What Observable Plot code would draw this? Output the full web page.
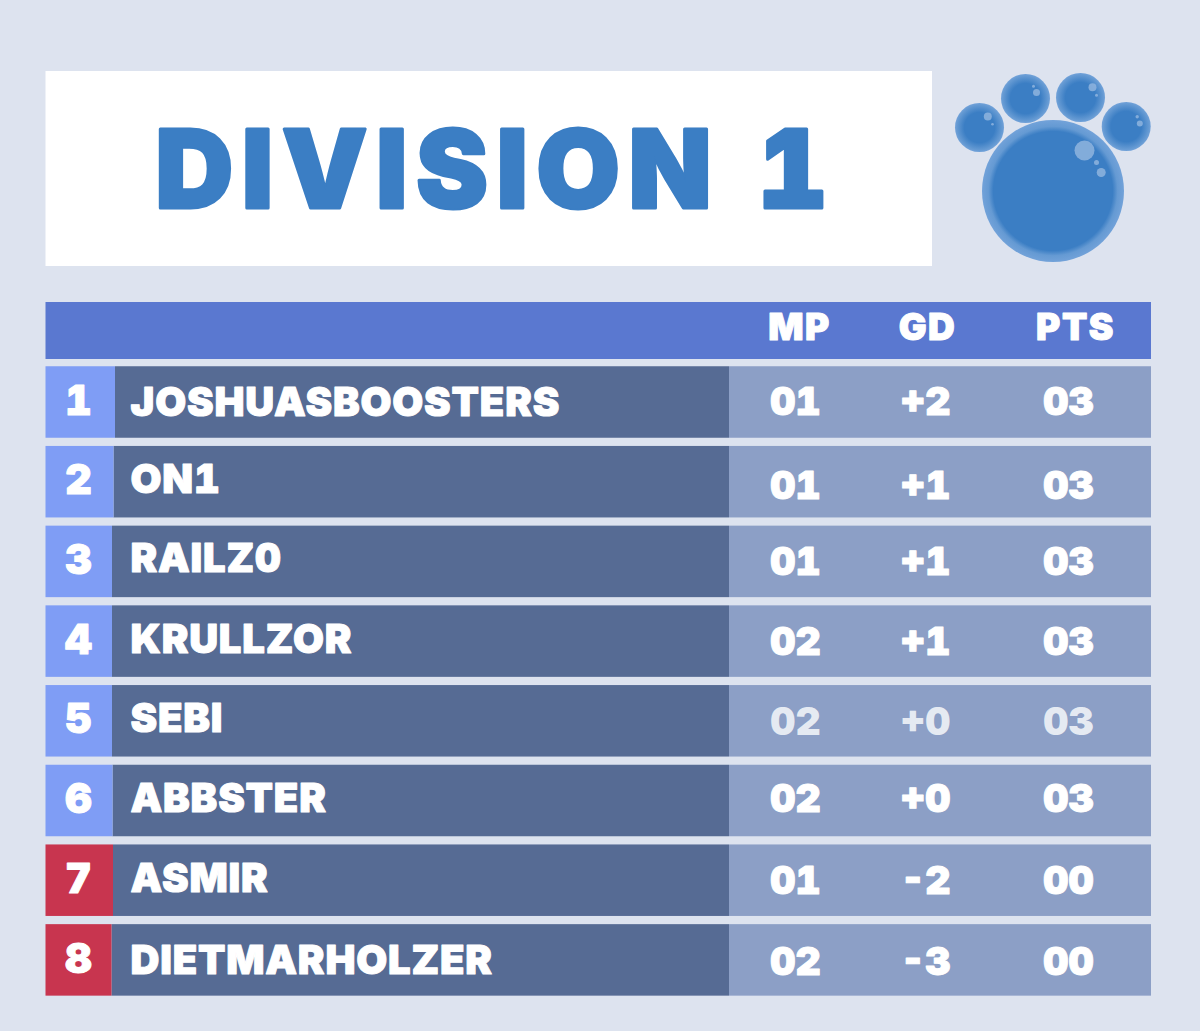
<!DOCTYPE html>
<html>
<head>
<meta charset="utf-8">
<script src="https://cdn.jsdelivr.net/npm/d3@7"></script>
<script src="https://cdn.jsdelivr.net/npm/@observablehq/plot@0.6"></script>
<style>
html,body{margin:0;padding:0;background:#dde3ef;}
svg{display:block;}
text{font-family:Inter,"Liberation Sans",sans-serif;font-weight:900;font-variant-numeric:tabular-nums;}
.ttl text{letter-spacing:8.5px;}
.nm text{letter-spacing:0.8px;}
.st text{letter-spacing:0;}
.hd text{letter-spacing:1.5px;}
</style>
</head>
<body>
<div id="chart"></div>
<script>
// --- chart content ---
const titleText = "DIVISION 1";
const ranks = [1, 2, 3, 4, 5, 6, 7, 8];
const players = ["JOSHUASBOOSTERS", "ON1", "RAILZ0", "KRULLZOR", "SEBI", "ABBSTER", "ASMIR", "DIETMARHOLZER"];
const matchesPlayed = ["01", "01", "01", "02", "02", "02", "01", "02"];
const goalDiff = ["+2", "+1", "+1", "+1", "+0", "+0", "-2", "-3"];
const points = ["03", "03", "03", "03", "03", "03", "00", "00"];
const columnHeads = ["MP", "GD", "PTS"];

// --- layout (page units) ---
const firstRow = 402, rowStep = 79.7, rowH = 71.5;
const rowY = r => firstRow + (r - 1) * rowStep;
const nameEdge = [115, 113.5, 112, 112, 112, 112.5, 113, 111.5];
const nameNudge = [0, -3, -4, -2, -3, -3, -3, 0];
const statNudge = [0, 4, 1, 1, 1, -1, 1, 2];
const rows = ranks.map((r, i) => ({
  rank: r, player: players[i], mp: matchesPlayed[i], gd: goalDiff[i], pts: points[i], y: rowY(r),
  edge: nameEdge[i], dName: nameNudge[i], dStat: statNudge[i]
}));
const L = 45.5, R = 1151, nameR = 729;
const colX = {mp: 795, gd: 950, pts: 1068};
const colAnchor = {mp: "middle", gd: "end", pts: "middle"};
const headX = [799, 927, 1075];

// paw artwork: [x, y, r]
const pads = [[1052.5, 190.5, 71]];
const toes = [[979, 127, 24.5], [1025, 98, 24.5], [1080, 97, 24.5], [1125.7, 126, 24.5]];
const glints = [[1084, 150, 10], [1096, 162, 2.5], [1100.7, 172, 4.5], [987.3, 116, 4], [992, 123.7, 1.3],
  [1036, 92, 3.5], [1033, 85.7, 1.5], [1092, 86.7, 4], [1096, 94.7, 1.5], [1139.3, 123, 3], [1136.7, 116.3, 1.7]];

const defs = () => {
  const s = d3.create("svg:g");
  const d = s.append("defs");
  const mk = (id, stop, mid) => {
    const g = d.append("radialGradient").attr("id", id);
    g.append("stop").attr("offset", stop).attr("stop-color", "#3b7ec4");
    g.append("stop").attr("offset", mid).attr("stop-color", "#659ad3");
    g.append("stop").attr("offset", "100%").attr("stop-color", "#72a2d9");
  };
  mk("padG", "84%", "91%");
  mk("toeG", "62%", "92%");
  return s.node();
};

const plot = Plot.plot({
  width: 1200, height: 1031, margin: 0,
  x: {domain: [0, 1200], range: [0, 1200], axis: null},
  y: {domain: [0, 1031], range: [0, 1031], axis: null},
  r: {type: "identity"},
  style: {background: "#dde3ef"},
  marks: [
    defs,
    // title
    Plot.rect([0], {x1: 45.5, x2: 932, y1: 71, y2: 266, fill: "white"}),
    Plot.text([titleText], {x: 495, y: 173, text: d => d, fill: "#3b7ec4", fontSize: 108, textAnchor: "middle", stroke: "#3b7ec4", strokeWidth: 3, className: "ttl"}),
    // paw
    Plot.dot(toes, {x: d => d[0], y: d => d[1], r: d => d[2], fill: "url(#toeG)"}),
    Plot.dot(pads, {x: d => d[0], y: d => d[1], r: d => d[2], fill: "url(#padG)"}),
    Plot.dot(glints, {x: d => d[0], y: d => d[1], r: d => d[2], fill: "#8fb4de", fillOpacity: 0.85}),
    // header
    Plot.rect([0], {x1: L, x2: R, y1: 302, y2: 359, fill: "#5a78d0"}),
    Plot.text(columnHeads, {x: (d, i) => headX[i], y: 328, text: d => d, fill: "white", fontSize: 37, textAnchor: "middle", stroke: "white", strokeWidth: 1, className: "hd"}),
    // rows
    Plot.rect(rows, {x1: nameR, x2: R, y1: d => d.y - rowH / 2, y2: d => d.y + rowH / 2, fill: "#8c9fc6"}),
    Plot.rect(rows, {x1: "edge", x2: nameR, y1: d => d.y - rowH / 2, y2: d => d.y + rowH / 2, fill: "#566b94"}),
    Plot.rect(rows, {x1: L, x2: "edge", y1: d => d.y - rowH / 2, y2: d => d.y + rowH / 2, fill: d => d.rank > 6 ? "#c8354f" : "#7f9df5"}),
    Plot.text(rows, {x: 78, y: d => d.y - 1, text: d => String(d.rank), fill: "white", fontSize: 41, textAnchor: "middle", stroke: "white", strokeWidth: 1}),
    Plot.text(rows, {x: 130, y: d => d.y + d.dName + 1, text: "player", fill: "white", fontSize: 40, textAnchor: "start", stroke: "white", strokeWidth: 1, className: "nm"}),
    ...["mp", "gd", "pts"].map(k => Plot.text(rows, {
      x: colX[k], y: d => d.y + d.dStat, text: k, fill: "white", fillOpacity: d => d.rank === 5 ? 0.8 : 1,
      strokeOpacity: d => d.rank === 5 ? 0 : 1, fontSize: 39, textAnchor: colAnchor[k], stroke: "white", strokeWidth: 1, className: "st"
    }))
  ]
});
document.getElementById("chart").append(plot);
</script>
</body>
</html>
